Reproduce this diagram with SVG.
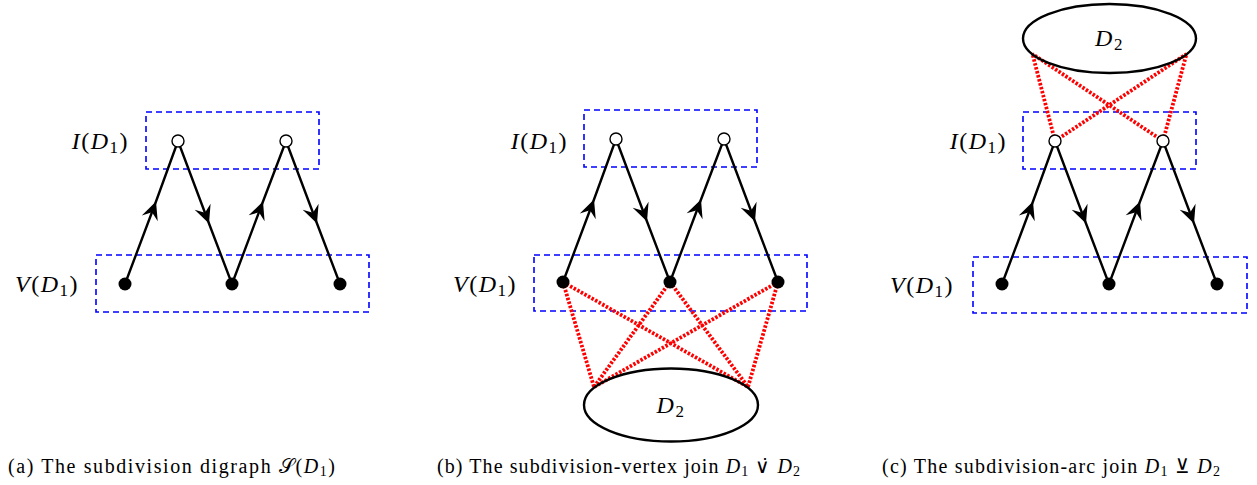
<svg xmlns="http://www.w3.org/2000/svg" width="1257" height="485" viewBox="0 0 1257 485">
<style>
.box{fill:none;stroke:#0000ff;stroke-width:1.6;stroke-dasharray:6 4}
.arc{fill:none;stroke:#000;stroke-width:2.4;marker-mid:url(#stealth)}
.red{fill:none;stroke:#ff0000;stroke-width:3.8;stroke-dasharray:2.5 1.6}
.open{fill:#fff;stroke:#000;stroke-width:1.4}
.fill{fill:#000}
.ell{fill:none;stroke:#000;stroke-width:2.4}
.lab{font-family:"Liberation Serif",serif;font-size:24px;letter-spacing:1.5px;fill:#000}
.cap{font-family:"Liberation Serif",serif;font-size:20px;fill:#000}
.it{font-style:italic}
</style>
<defs>
<marker id="stealth" markerUnits="userSpaceOnUse" viewBox="-19 -10 21 20" markerWidth="21" markerHeight="20" refX="0" refY="0" orient="auto">
<path d="M0,0 L-18,-8.5 L-11.5,0 L-18,8.5 Z" fill="#000"/>
</marker>
</defs>

<!-- Panel (a) -->
<g id="panel-a">
<rect class="box" x="146" y="112" width="173" height="57"/>
<rect class="box" x="96" y="255" width="273" height="57"/>
<g id="a-connectors">
<path class="arc" d="M125,284 L156,201.5 L178,141"/>
<path class="arc" d="M178,141 L209,223.5 L232,284"/>
<path class="arc" d="M232,284 L263,201.5 L286,141"/>
<path class="arc" d="M286,141 L317,223.5 L340,284"/>
</g>
<g id="a-i1"><circle class="open" cx="178" cy="141" r="6"/></g>
<g id="a-i2"><circle class="open" cx="286" cy="141" r="6"/></g>
<g id="a-v1"><circle class="fill" cx="125" cy="284" r="6.5"/></g>
<g id="a-v2"><circle class="fill" cx="232" cy="284" r="6.5"/></g>
<g id="a-v3"><circle class="fill" cx="340" cy="284" r="6.5"/></g>
<text class="lab" x="129" y="149" text-anchor="end"><tspan class="it">I</tspan>(<tspan class="it">D</tspan><tspan font-size="17" dy="4">1</tspan><tspan dy="-4">)</tspan></text>
<text class="lab" x="79" y="292" text-anchor="end"><tspan class="it">V</tspan>(<tspan class="it">D</tspan><tspan font-size="17" dy="4">1</tspan><tspan dy="-4">)</tspan></text>
</g>

<!-- Panel (b) -->
<g id="panel-b" transform="translate(438,-2)">
<rect class="box" x="146" y="112" width="173" height="57"/>
<rect class="box" x="96" y="257" width="273" height="56"/>
<g id="b-connectors">
<path class="red" d="M125,284 L156,389"/>
<path class="red" d="M125,284 L310,389"/>
<path class="red" d="M232,284 L156,389"/>
<path class="red" d="M232,284 L310,389"/>
<path class="red" d="M340,284 L156,389"/>
<path class="red" d="M340,284 L310,389"/>
<path class="arc" d="M125,284 L156,201.5 L178,141"/>
<path class="arc" d="M178,141 L209,223.5 L232,284"/>
<path class="arc" d="M232,284 L263,201.5 L286,141"/>
<path class="arc" d="M286,141 L317,223.5 L340,284"/>
</g>
<g id="b-d2">
<ellipse class="ell" cx="233" cy="407" rx="87" ry="36.5"/>
<text class="lab" x="233" y="415" text-anchor="middle"><tspan class="it">D</tspan><tspan font-size="17" dy="4">2</tspan></text>
</g>
<g id="b-i1"><circle class="open" cx="178" cy="141" r="6"/></g>
<g id="b-i2"><circle class="open" cx="286" cy="141" r="6"/></g>
<g id="b-v1"><circle class="fill" cx="125" cy="284" r="6.5"/></g>
<g id="b-v2"><circle class="fill" cx="232" cy="284" r="6.5"/></g>
<g id="b-v3"><circle class="fill" cx="340" cy="284" r="6.5"/></g>
<text class="lab" x="130" y="151" text-anchor="end"><tspan class="it">I</tspan>(<tspan class="it">D</tspan><tspan font-size="17" dy="4">1</tspan><tspan dy="-4">)</tspan></text>
<text class="lab" x="79" y="294" text-anchor="end"><tspan class="it">V</tspan>(<tspan class="it">D</tspan><tspan font-size="17" dy="4">1</tspan><tspan dy="-4">)</tspan></text>
</g>

<!-- Panel (c) -->
<g id="panel-c" transform="translate(877,0)">
<rect class="box" x="146" y="112" width="173" height="57"/>
<rect class="box" x="96" y="257" width="274" height="56"/>
<g id="c-connectors">
<path class="red" d="M178,141 L155.5,54"/>
<path class="red" d="M178,141 L309.5,54"/>
<path class="red" d="M286,141 L155.5,54"/>
<path class="red" d="M286,141 L309.5,54"/>
<path class="arc" d="M125,284 L156,201.5 L178,141"/>
<path class="arc" d="M178,141 L209,223.5 L232,284"/>
<path class="arc" d="M232,284 L263,201.5 L286,141"/>
<path class="arc" d="M286,141 L317,223.5 L340,284"/>
</g>
<g id="c-d2">
<ellipse class="ell" cx="232.5" cy="38.5" rx="86.5" ry="34.5"/>
<text class="lab" x="232.5" y="46" text-anchor="middle"><tspan class="it">D</tspan><tspan font-size="17" dy="4">2</tspan></text>
</g>
<g id="c-i1"><circle class="open" cx="178" cy="141" r="6"/></g>
<g id="c-i2"><circle class="open" cx="286" cy="141" r="6"/></g>
<g id="c-v1"><circle class="fill" cx="125" cy="284" r="6.5"/></g>
<g id="c-v2"><circle class="fill" cx="232" cy="284" r="6.5"/></g>
<g id="c-v3"><circle class="fill" cx="340" cy="284" r="6.5"/></g>
<text class="lab" x="130" y="149" text-anchor="end"><tspan class="it">I</tspan>(<tspan class="it">D</tspan><tspan font-size="17" dy="4">1</tspan><tspan dy="-4">)</tspan></text>
<text class="lab" x="77" y="293" text-anchor="end"><tspan class="it">V</tspan>(<tspan class="it">D</tspan><tspan font-size="17" dy="4">1</tspan><tspan dy="-4">)</tspan></text>
</g>

<!-- Captions -->
<text class="cap" x="8" y="473" textLength="327" lengthAdjust="spacing">(a) The subdivision digraph 𝒮(<tspan class="it">D</tspan><tspan font-size="14" dy="3">1</tspan><tspan dy="-3">)</tspan></text>
<text class="cap" x="437" y="473" textLength="363" lengthAdjust="spacing">(b) The subdivision-vertex join <tspan class="it">D</tspan><tspan font-size="14" dy="3">1</tspan><tspan dy="-3"> ∨̇ </tspan><tspan class="it">D</tspan><tspan font-size="14" dy="3">2</tspan></text>
<text class="cap" x="882" y="473" textLength="338" lengthAdjust="spacing">(c) The subdivision-arc join <tspan class="it">D</tspan><tspan font-size="14" dy="3">1</tspan><tspan dy="-3"> ⊻ </tspan><tspan class="it">D</tspan><tspan font-size="14" dy="3">2</tspan></text>
</svg>
